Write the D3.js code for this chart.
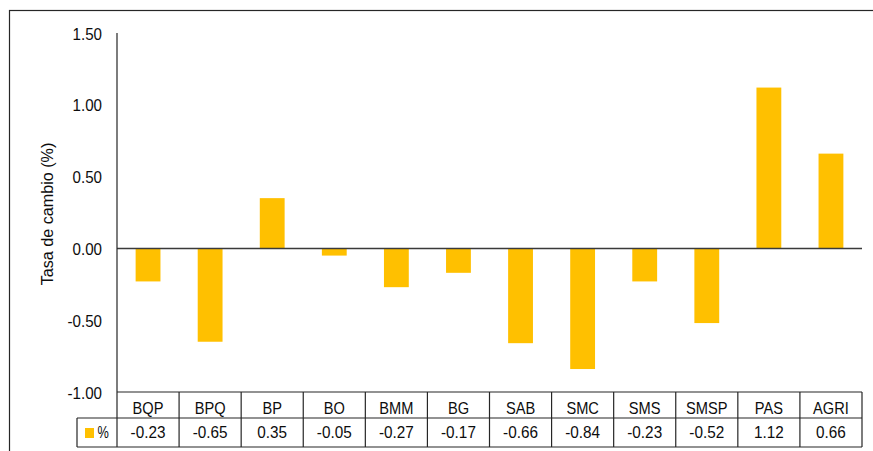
<!DOCTYPE html>
<html><head><meta charset="utf-8">
<script src="https://cdn.jsdelivr.net/npm/d3@7"></script>
<style>
html,body{margin:0;padding:0;background:#fff;}
svg{display:block;font-family:"Liberation Sans",Arial,sans-serif;}
</style></head>
<body>
<svg id="chart" width="873" height="451"></svg>
<script>
const categories = ["BQP","BPQ","BP","BO","BMM","BG","SAB","SMC","SMS","SMSP","PAS","AGRI"];
const values = [-0.23,-0.65,0.35,-0.05,-0.27,-0.17,-0.66,-0.84,-0.23,-0.52,1.12,0.66];
const valueLabels = ["-0.23","-0.65","0.35","-0.05","-0.27","-0.17","-0.66","-0.84","-0.23","-0.52","1.12","0.66"];
const yTicks = [1.5,1.0,0.5,0.0,-0.5,-1.0];
const seriesName = "%";
const yTitle = "Tasa de cambio (%)";

(function(){
const svg = d3.select("#chart");
const color = "#FFC000";
const textColor = "#0d0d0d";
const fs = 17;
const pLeft = 117, pRight = 862, pTop = 33, pBottom = 392;
const rowH1 = 418, rowH2 = 447, legendLeft = 77;

function squeeze(sel, k){
  sel.each(function(){
    const len = this.getComputedTextLength();
    d3.select(this).attr("textLength", len*k).attr("lengthAdjust","spacingAndGlyphs");
  });
}

// outer frame
svg.append("rect").attr("x",9.5).attr("y",10.5).attr("width",880).attr("height",460)
  .attr("fill","none").attr("stroke","#262626").attr("stroke-width",1.2);

const y = d3.scaleLinear().domain([-1,1.5]).range([pBottom, pTop]);
const xCol = d3.scaleBand().domain(categories).range([pLeft, pRight]).padding(0);
const xBar = d3.scaleBand().domain(categories).range([pLeft, pRight]).paddingInner(0.6).paddingOuter(0.3);

// bars
svg.append("g").selectAll("rect").data(categories).join("rect")
  .attr("x", d => xBar(d))
  .attr("width", xBar.bandwidth())
  .attr("y", (d,i) => y(Math.max(0, values[i])))
  .attr("height", (d,i) => Math.abs(y(values[i]) - y(0)))
  .attr("fill", color);

// zero line
svg.append("line").attr("x1",pLeft).attr("x2",pRight).attr("y1",y(0)).attr("y2",y(0))
  .attr("stroke","#3a3a3a").attr("stroke-width",1.5);

// y axis
const fmt = d => d3.format(".2f")(d).replace("\u2212","-");
const yAxis = d3.axisLeft(y).tickValues(yTicks).tickFormat(fmt).tickSize(0).tickPadding(15);
const gy = svg.append("g").attr("transform",`translate(${pLeft},0)`).call(yAxis);
gy.select(".domain").remove();
gy.selectAll("text").attr("font-size",fs).attr("fill",textColor).attr("dy","0.36em")
  .attr("font-family","'Liberation Sans',Arial,sans-serif");
squeeze(gy.selectAll("text"), 0.89);
svg.append("line").attr("x1",pLeft).attr("x2",pLeft).attr("y1",pTop).attr("y2",rowH2)
  .attr("stroke","#262626").attr("stroke-width",1.2);

// y title
const tt = svg.append("text").attr("transform",`translate(53,214) rotate(-90)`)
  .attr("text-anchor","middle").attr("font-size",fs).attr("fill",textColor).text(yTitle);
squeeze(tt, 0.95);

// table
const tbl = svg.append("g").attr("stroke","#262626").attr("stroke-width",1.2);
tbl.append("line").attr("x1",pLeft).attr("x2",pRight).attr("y1",pBottom).attr("y2",pBottom);
tbl.append("line").attr("x1",legendLeft).attr("x2",pRight).attr("y1",rowH1).attr("y2",rowH1);
tbl.append("line").attr("x1",legendLeft).attr("x2",pRight).attr("y1",rowH2).attr("y2",rowH2);
tbl.append("line").attr("x1",legendLeft).attr("x2",legendLeft).attr("y1",rowH1).attr("y2",rowH2);
tbl.selectAll("line.col").data(categories).join("line").attr("class","col")
  .attr("x1", d => xCol(d) + xCol.bandwidth()).attr("x2", d => xCol(d) + xCol.bandwidth())
  .attr("y1", pBottom).attr("y2", rowH2);

const hdr = svg.append("g").selectAll("text").data(categories).join("text")
  .attr("x", d => xCol(d) + xCol.bandwidth()/2).attr("y", 413.5)
  .attr("text-anchor","middle").attr("font-size",fs).attr("fill",textColor)
  .text(d => d);
squeeze(hdr, 0.86);
const vals = svg.append("g").selectAll("text").data(categories).join("text")
  .attr("x", d => xCol(d) + xCol.bandwidth()/2).attr("y", 437.5)
  .attr("text-anchor","middle").attr("font-size",fs).attr("fill",textColor)
  .text((d,i) => valueLabels[i]);
squeeze(vals, 0.9);

// legend key
svg.append("rect").attr("x",85).attr("y",428).attr("width",9).attr("height",10).attr("fill",color);
const lt = svg.append("text").attr("x",97.5).attr("y",437.5)
  .attr("font-size",fs).attr("fill",textColor).text(seriesName);
squeeze(lt, 0.75);
})();
</script>
</body></html>
